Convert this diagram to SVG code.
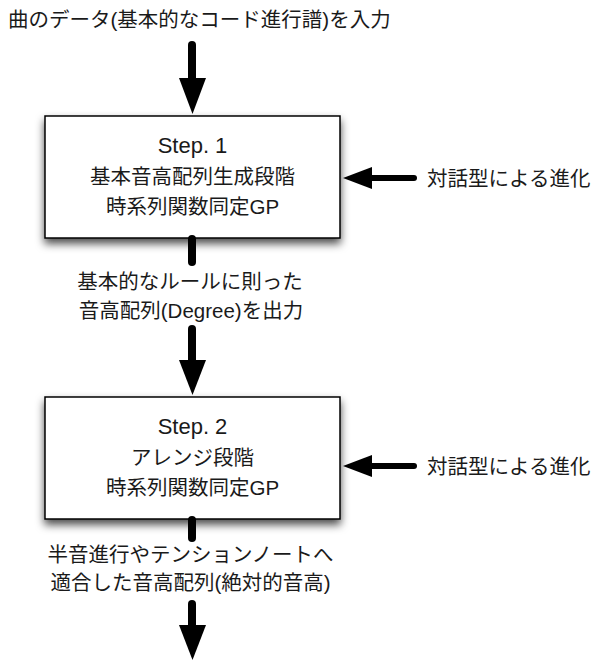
<svg xmlns="http://www.w3.org/2000/svg" width="592" height="661" viewBox="0 0 592 661">
<style>
text{font-family:"Liberation Sans","Noto Sans CJK JP",sans-serif;font-size:20.5px;fill:#1a1a1a}
.c{text-anchor:middle}
.lat{font-size:22px}
.box{fill:#fff;stroke:#000;stroke-width:1.5}
.shaft{stroke:#000;stroke-width:8;stroke-linecap:round;fill:none}
.hshaft{stroke:#000;stroke-width:6;stroke-linecap:round;fill:none}
.head{fill:#000}
</style>
<defs>
<filter id="sh" x="-10%" y="-20%" width="120%" height="150%">
<feDropShadow dx="0" dy="5" stdDeviation="4" flood-color="#000" flood-opacity="0.7"/>
</filter>
</defs>
<rect width="592" height="661" fill="#fff"/>
<text id="input" x="8" y="27">曲のデータ(基本的なコード進行譜)を入力</text>
<g id="step1">
<rect class="box" x="45" y="116" width="295" height="122" filter="url(#sh)"/>
<text class="c lat" x="192.5" y="153">Step. 1</text>
<text class="c" x="192.5" y="184">基本音高配列生成段階</text>
<text class="c" x="192.5" y="214">時系列関数同定GP</text>
</g>
<g id="step2">
<rect class="box" x="45" y="397" width="295" height="122" filter="url(#sh)"/>
<text class="c lat" x="192.5" y="434">Step. 2</text>
<text class="c" x="192.5" y="465">アレンジ段階</text>
<text class="c" x="192.5" y="495">時系列関数同定GP</text>
</g>
<g id="label1">
<text x="427" y="186">対話型による進化</text>
</g>
<g id="label2">
<text x="427" y="474">対話型による進化</text>
</g>
<g id="connectors">
<line class="shaft" x1="192" y1="45" x2="192" y2="80"/>
<polygon class="head" points="179,78 206,78 192.5,114"/>
<line class="shaft" x1="192" y1="239" x2="192" y2="262"/>
<text class="c" x="190" y="289">基本的なルールに則った</text>
<text class="c" x="191" y="318">音高配列(Degree)を出力</text>
<line class="shaft" x1="192" y1="329" x2="192" y2="362"/>
<polygon class="head" points="179,360 206,360 192.5,395"/>
<line class="shaft" x1="192" y1="520" x2="192" y2="538"/>
<text class="c" x="190.5" y="562">半音進行やテンションノートへ</text>
<text class="c" x="190.5" y="590">適合した音高配列(絶対的音高)</text>
<line class="shaft" x1="192" y1="604" x2="192" y2="627"/>
<polygon class="head" points="179,625 206,625 192.5,660"/>
<line class="hshaft" x1="370" y1="178" x2="414" y2="178"/>
<polygon class="head" points="343,178 372,167 372,189"/>
<line class="hshaft" x1="370" y1="466" x2="414" y2="466"/>
<polygon class="head" points="343,466 372,455 372,477"/>
</g>
</svg>
